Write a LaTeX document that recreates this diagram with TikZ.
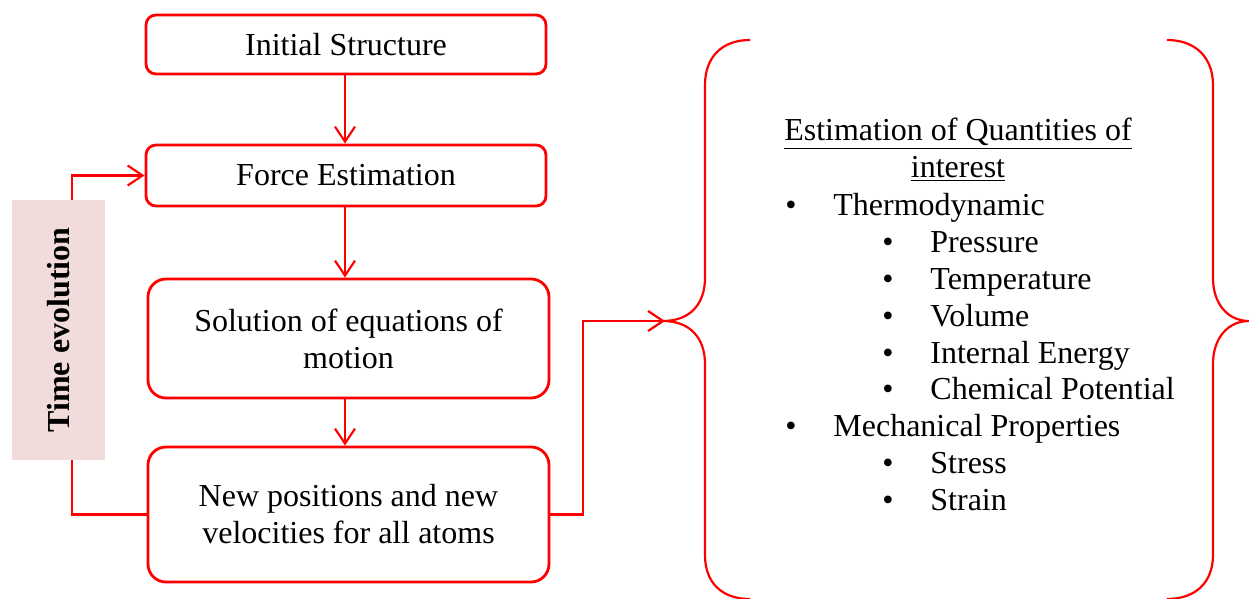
\documentclass[tikz,border=0pt]{standalone}
\usepackage{fontspec}
\setmainfont{Liberation Serif}
\usepackage{xcolor}
\usetikzlibrary{arrows.meta,positioning,calc,backgrounds}
\definecolor{flowred}{HTML}{FF0000}
\definecolor{timepink}{HTML}{F2DCDB}

\tikzset{
  stepbox/.style={draw=flowred,line width=1.4pt,rounded corners=5pt,inner sep=0pt,
    align=center,font=\fontsize{16}{18.5}\selectfont},
  bigbox/.style={stepbox,rounded corners=9pt},
  flow/.style={draw=flowred,line width=1.1pt,-{Straight Barb[length=7.5pt,width=10pt,line width=1.1pt]}},
  link/.style={draw=flowred,line width=1.1pt},
  listitem/.style={anchor=base west,inner sep=0pt,font=\fontsize{16}{18.5}\selectfont},
}

\begin{document}
\begin{tikzpicture}[x=0.5pt,y=-0.5pt]
  \useasboundingbox (0,0) rectangle (1249,599);
  % flow chart
  \node[stepbox,minimum width=200pt,minimum height=29.5pt] (init) at (346,44.5) {\raisebox{-1pt}{Initial Structure}};
  \node[stepbox,minimum width=200pt,minimum height=30.5pt] (force) at (346,175.5) {\raisebox{-1pt}{Force Estimation}};
  \node[bigbox,minimum width=200.5pt,minimum height=59.5pt] (solve) at (348.5,338.5) {Solution of equations of\\motion};
  \node[bigbox,minimum width=200.5pt,minimum height=67.5pt] (newpos) at (348.5,514.5) {New positions and new\\velocities for all atoms};
  \node[fill=timepink,rotate=90,inner sep=0pt,minimum width=130pt,minimum height=46.5pt,
    font=\fontsize{16}{18.5}\selectfont\bfseries] (timebox) at (58.5,330) {Time evolution};
  \coordinate (loopx) at (72,0);
  \coordinate (linkx) at (583,0);
  \coordinate (bracetip) at (665,321);

  \begin{scope}[on background layer]
    \draw[flow] (init.south -| 345,0) -- (force.north -| 345,0);
    \draw[flow] (force.south -| 345,0) -- (solve.north -| 345,0);
    \draw[flow] (solve.south -| 345,0) -- (newpos.north -| 345,0);
    \draw[flow] (newpos.west) -- (newpos.west -| loopx) |- (force.west);
    \draw[flow] (newpos.east) -- (newpos.east -| linkx) |- (bracetip);
  \end{scope}

  % braces
  \draw[link] (750,40) .. controls (722,40) and (705,57) .. (705,85) -- (705,278)
    .. controls (705,304) and (690,321) .. (663,321)
    .. controls (690,321) and (705,338) .. (705,364) -- (705,555)
    .. controls (705,583) and (722,599) .. (750,599);
  \draw[link] (1167,40) .. controls (1195,40) and (1213,57) .. (1213,85) -- (1213,278)
    .. controls (1213,304) and (1228,321) .. (1249,321)
    .. controls (1228,321) and (1213,338) .. (1213,364) -- (1213,555)
    .. controls (1213,583) and (1195,599) .. (1167,599);

  % quantities of interest
  \node[align=center,inner sep=0pt,font=\fontsize{16}{18.5}\selectfont] (title) at (958,150)
    {\underline{Estimation of Quantities of}\\\underline{interest}};
  \node[listitem] (thermobul) at (785,215) {\textbullet};
  \node[listitem] (thermo) at (833,215) {Thermodynamic};
  \node[listitem] (pressbul) at (882,252) {\textbullet};
  \node[listitem] (press) at (930,252) {Pressure};
  \node[listitem] (tempbul) at (882,289) {\textbullet};
  \node[listitem] (temp) at (930,289) {Temperature};
  \node[listitem] (volbul) at (882,326) {\textbullet};
  \node[listitem] (vol) at (930,326) {Volume};
  \node[listitem] (energybul) at (882,363) {\textbullet};
  \node[listitem] (energy) at (930,363) {Internal Energy};
  \node[listitem] (chembul) at (882,399) {\textbullet};
  \node[listitem] (chem) at (930,399) {Chemical Potential};
  \node[listitem] (mechbul) at (785,436) {\textbullet};
  \node[listitem] (mech) at (833,436) {Mechanical Properties};
  \node[listitem] (stressbul) at (882,473) {\textbullet};
  \node[listitem] (stress) at (930,473) {Stress};
  \node[listitem] (strainbul) at (882,510) {\textbullet};
  \node[listitem] (strain) at (930,510) {Strain};
\end{tikzpicture}
\end{document}
